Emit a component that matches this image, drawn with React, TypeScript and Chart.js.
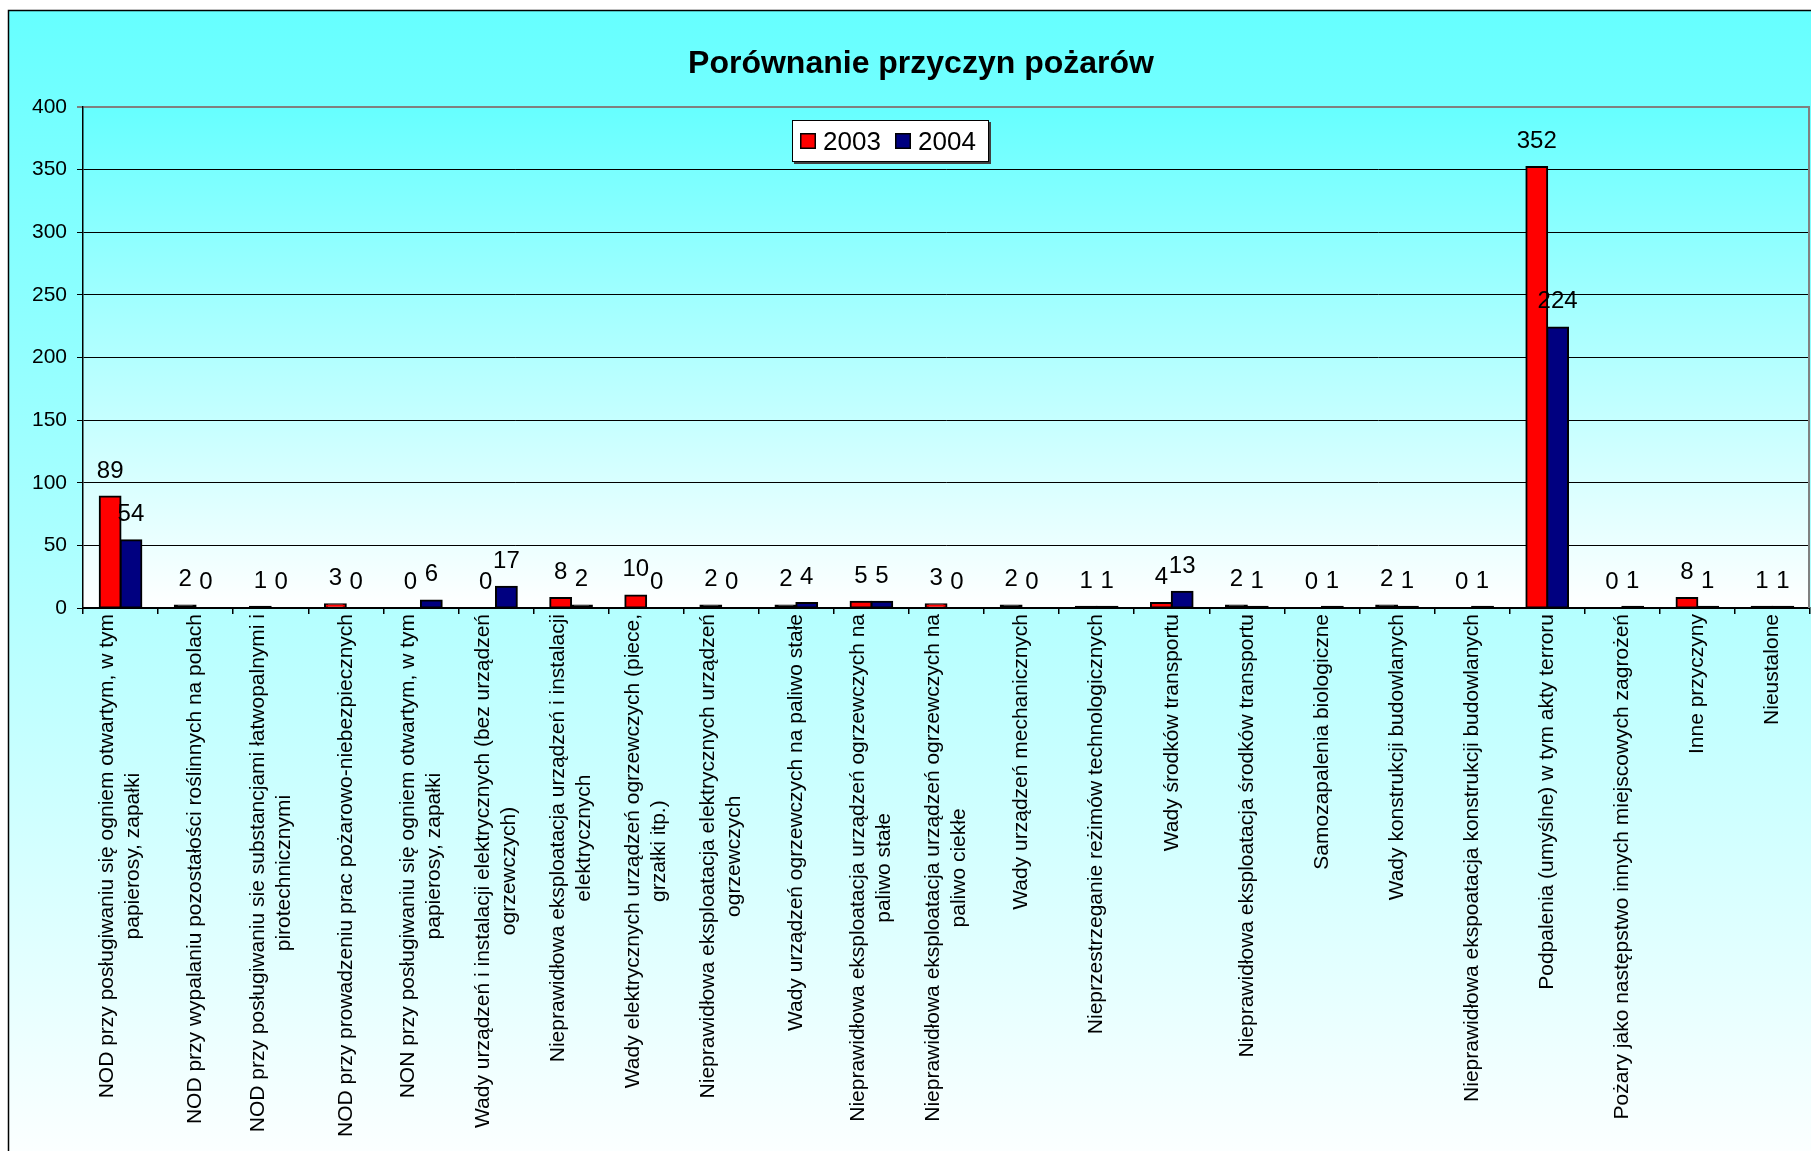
import React, { useEffect, useRef } from 'react';
import { Chart, registerables } from 'chart.js';

Chart.register(...registerables);

// ---- data ----
const categories: string[][] = [
  ['NOD przy posługiwaniu się ogniem otwartym, w tym', 'papierosy, zapałki'],
  ['NOD przy wypalaniu pozostałości roślinnych na polach'],
  ['NOD przy posługiwaniu sie substancjami łatwopalnymi i', 'pirotechnicznymi'],
  ['NOD przy prowadzeniu prac pożarowo-niebezpiecznych'],
  ['NON przy posługiwaniu się ogniem otwartym, w tym', 'papierosy, zapałki'],
  ['Wady urządzeń i instalacji elektrycznych (bez urządzeń', 'ogrzewczych)'],
  ['Nieprawidłowa eksploatacja urządzeń i instalacji', 'elektrycznych'],
  ['Wady elektrycznych urządzeń ogrzewczych (piece,', 'grzałki itp.)'],
  ['Nieprawidłowa eksploatacja elektrycznych urządzeń', 'ogrzewczych'],
  ['Wady urządzeń ogrzewczych na paliwo stałe'],
  ['Nieprawidłowa eksploatacja urządzeń ogrzewczych na', 'paliwo stałe'],
  ['Nieprawidłowa eksploatacja urządzeń ogrzewczych na', 'paliwo ciekłe'],
  ['Wady urządzeń mechanicznych'],
  ['Nieprzestrzeganie reżimów technologicznych'],
  ['Wady środków transportu'],
  ['Nieprawidłowa eksploatacja środków transportu'],
  ['Samozapalenia biologiczne'],
  ['Wady konstrukcji budowlanych'],
  ['Nieprawidłowa ekspoatacja konstrukcji budowlanych'],
  ['Podpalenia (umyślne) w tym akty terroru'],
  ['Pożary jako następstwo innych miejscowych zagrożeń'],
  ['Inne przyczyny'],
  ['Nieustalone'],
];

const values2003: number[] = [89, 2, 1, 3, 0, 0, 8, 10, 2, 2, 5, 3, 2, 1, 4, 2, 0, 2, 0, 352, 0, 8, 1];
const values2004: number[] = [54, 0, 0, 0, 6, 17, 2, 0, 0, 4, 5, 0, 0, 1, 13, 1, 1, 1, 1, 224, 1, 1, 1];

const seriesNames: string[] = ['2003', '2004'];
const titleText = 'Porównanie przyczyn pożarów';
const yMin = 0;
const yMax = 400;
const yStep = 50;

// ---- layout / style ----
const W = 1811;
const H = 1151;
const FONT = '"Liberation Sans", Arial, Helvetica, sans-serif';
const CYAN = '#66FFFF';
const seriesColors = ['#FF0000', '#000080'];

export default function App() {
  const ref = useRef<HTMLCanvasElement | null>(null);

  useEffect(() => {
    const canvas = ref.current;
    if (!canvas) return;

    const bgPlugin = {
      id: 'bgPlugin',
      beforeDraw(chart: any) {
        const { ctx, chartArea: a } = chart;
        ctx.save();
        ctx.fillStyle = '#FFFFFF';
        ctx.fillRect(0, 0, W, H);
        const g = ctx.createLinearGradient(0, 11, 0, 1180);
        g.addColorStop(0, CYAN);
        g.addColorStop(1, '#FFFFFF');
        ctx.fillStyle = g;
        ctx.fillRect(9, 11, W, H);
        ctx.strokeStyle = '#000';
        ctx.lineWidth = 1.5;
        ctx.beginPath();
        ctx.moveTo(8.5, H + 10);
        ctx.lineTo(8.5, 10.5);
        ctx.lineTo(W + 10, 10.5);
        ctx.stroke();
        const pg = ctx.createLinearGradient(0, a.top, 0, a.bottom);
        pg.addColorStop(0, CYAN);
        pg.addColorStop(1, '#FFFFFF');
        ctx.fillStyle = pg;
        ctx.fillRect(a.left, a.top, a.right - a.left, a.bottom - a.top);
        ctx.restore();
      },
    };

    const valueLabels = {
      id: 'valueLabels',
      afterDatasetsDraw(chart: any) {
        const { ctx } = chart;
        ctx.save();
        ctx.font = `24px ${FONT}`;
        ctx.fillStyle = '#000';
        ctx.textAlign = 'center';
        ctx.textBaseline = 'alphabetic';
        chart.data.datasets.forEach((ds: any, di: number) => {
          const meta = chart.getDatasetMeta(di);
          meta.data.forEach((el: any, i: number) => {
            ctx.fillText(String(ds.data[i]), el.x, el.y - 19);
          });
        });
        ctx.restore();
      },
    };

    const decorations = {
      id: 'decorations',
      afterDraw(chart: any) {
        const { ctx, chartArea: a } = chart;
        const xs = chart.scales.x;
        ctx.save();

        // plot area right border
        ctx.strokeStyle = '#808080';
        ctx.lineWidth = 2;
        ctx.beginPath();
        ctx.moveTo(a.right - 1, a.top);
        ctx.lineTo(a.right - 1, a.bottom);
        ctx.stroke();

        // title
        ctx.fillStyle = '#000';
        ctx.font = `bold 32px ${FONT}`;
        ctx.textAlign = 'center';
        ctx.textBaseline = 'alphabetic';
        ctx.fillText(titleText, 921, 73);

        // category labels (rotated, lines centered)
        ctx.font = `21px ${FONT}`;
        ctx.textAlign = 'center';
        ctx.textBaseline = 'middle';
        const lh = 26;
        categories.forEach((lines, i) => {
          const xc = xs.getPixelForValue(i);
          const wMax = Math.max(...lines.map((l) => ctx.measureText(l).width));
          ctx.save();
          ctx.translate(xc, xs.top + 6 + wMax / 2);
          ctx.rotate(-Math.PI / 2);
          lines.forEach((l, j) => {
            ctx.fillText(l, 0, (j - (lines.length - 1) / 2) * lh);
          });
          ctx.restore();
        });

        // legend
        const lx = 792, ly = 120, lw = 197, lhgt = 42;
        ctx.fillStyle = '#404040';
        ctx.fillRect(lx + 2, ly + 2, lw, lhgt);
        ctx.fillStyle = '#FFFFFF';
        ctx.fillRect(lx, ly, lw, lhgt);
        ctx.strokeStyle = '#000';
        ctx.lineWidth = 1;
        ctx.strokeRect(lx + 0.5, ly + 0.5, lw - 1, lhgt - 1);
        ctx.font = `26px ${FONT}`;
        ctx.textAlign = 'left';
        ctx.textBaseline = 'alphabetic';
        const swX = [800, 895];
        chart.data.datasets.forEach((ds: any, di: number) => {
          const sx = swX[di];
          ctx.fillStyle = seriesColors[di];
          ctx.fillRect(sx, 133, 16, 16);
          ctx.strokeStyle = '#000';
          ctx.lineWidth = 1.5;
          ctx.strokeRect(sx + 0.75, 133.75, 14.5, 14.5);
          ctx.fillStyle = '#000';
          ctx.fillText(ds.label, sx + 23, 150);
        });

        ctx.restore();
      },
    };

    // bars thinner than their outline look fully black, as in the reference
    const fillFor = (color: string) => (c: any) => {
      const ys = c.chart.scales && c.chart.scales.y;
      if (ys && typeof c.raw === 'number') {
        const h = Math.abs(ys.getPixelForValue(0) - ys.getPixelForValue(c.raw));
        if (h < 3.5) return '#000000';
      }
      return color;
    };

    const barStyle = {
      borderColor: '#000000',
      borderWidth: 2,
      borderSkipped: false,
      inflateAmount: 1,
      categoryPercentage: 0.555,
      barPercentage: 1,
    };

    const chart = new Chart(canvas, {
      type: 'bar',
      data: {
        labels: categories.map((l) => l.join(' ')),
        datasets: [
          { label: seriesNames[0], data: values2003, backgroundColor: fillFor(seriesColors[0]), ...barStyle },
          { label: seriesNames[1], data: values2004, backgroundColor: fillFor(seriesColors[1]), ...barStyle },
        ],
      },
      options: {
        responsive: false,
        animation: false,
        devicePixelRatio: 1,
        layout: { padding: { left: 0, top: 107, right: 1, bottom: 0 } },
        plugins: {
          legend: { display: false },
          title: { display: false },
          tooltip: { enabled: false },
        },
        scales: {
          x: {
            offset: true,
            grid: {
              offset: true,
              drawOnChartArea: false,
              drawTicks: true,
              tickLength: 6,
              color: '#000',
              lineWidth: 1.5,
            },
            border: { display: true, color: '#000', width: 2 },
            ticks: { display: false },
            afterFit: (scale: any) => {
              scale.height = H - 608;
            },
          },
          y: {
            min: yMin,
            max: yMax,
            ticks: {
              stepSize: yStep,
              color: '#000',
              padding: 10,
              font: { family: FONT, size: 21 },
            },
            grid: {
              drawTicks: true,
              tickLength: 6,
              color: (c: any) => (c.tick && c.tick.value === yMax ? '#808080' : '#000'),
              lineWidth: (c: any) => (c.tick && c.tick.value === yMax ? 2 : 1),
            },
            border: { display: true, color: '#000', width: 1.5 },
            afterFit: (scale: any) => {
              scale.width = 83;
            },
          },
        },
      },
      plugins: [bgPlugin, valueLabels, decorations],
    } as any);

    return () => {
      chart.destroy();
    };
  }, []);

  return (
    <div style={{ position: 'absolute', left: 0, top: 0, width: W, height: H }}>
      <canvas ref={ref} width={W} height={H} style={{ display: 'block', width: W, height: H }} />
    </div>
  );
}
